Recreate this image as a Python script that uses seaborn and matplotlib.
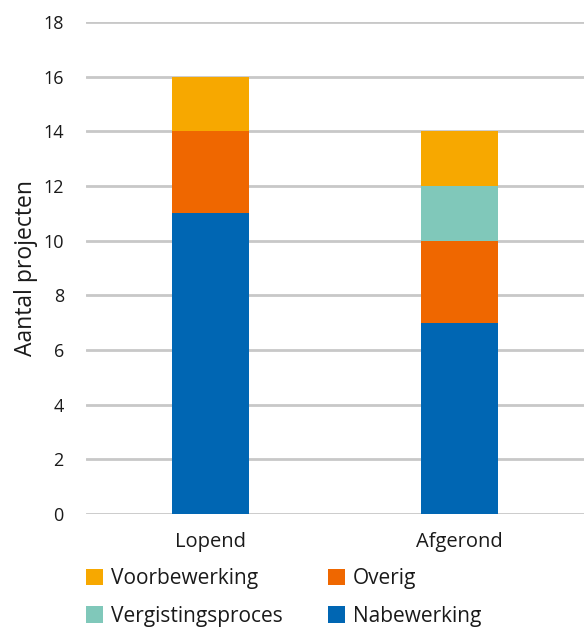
import numpy as np
import pandas as pd
import matplotlib
matplotlib.use("Agg")
import matplotlib.pyplot as plt
from matplotlib.patches import Patch
import seaborn as sns

# Project counts per status, split by process step
categories = ["Lopend", "Afgerond"]
nabewerking = [11, 7]
overig = [3, 3]
vergistingsproces = [0, 2]
voorbewerking = [2, 2]

series_names = ["Nabewerking", "Overig", "Vergistingsproces", "Voorbewerking"]
series_values = [nabewerking, overig, vergistingsproces, voorbewerking]
series_colors = ["#0066B3", "#EF6700", "#80C8BA", "#F7A800"]

y_ticks = [0, 2, 4, 6, 8, 10, 12, 14, 16, 18]
y_label = "Aantal projecten"

sns.set_theme(style="white")
plt.rcParams["font.family"] = ["Open Sans", "DejaVu Sans"]

fig = plt.figure(figsize=(5.84, 6.30), dpi=100)
ax = fig.add_axes([86 / 584, 1 - 514 / 630, 1 - 86 / 584, (514 - 22) / 630])

# Stack by drawing cumulative totals from the top layer downwards
cumulative = np.cumsum(np.array(series_values, dtype=float), axis=0)
for i in range(len(series_names) - 1, -1, -1):
    df = pd.DataFrame({"status": categories, "value": cumulative[i]})
    sns.barplot(data=df, x="status", y="value", order=categories,
                color=series_colors[i], saturation=1, width=0.31,
                linewidth=0, ax=ax, zorder=3)

ax.set_xlim(-0.5, 1.5)
ax.set_ylim(0, 18)
ax.set_yticks(y_ticks)
ax.set_yticklabels([str(t) for t in y_ticks])
ax.yaxis.grid(True, color="#c8c8c8", linewidth=2, zorder=0)
ax.set_axisbelow(True)
for s in ax.spines.values():
    s.set_visible(False)
ax.tick_params(axis="y", length=0, pad=16, labelsize=13, labelcolor="#1a1a1a")
ax.tick_params(axis="x", length=0, pad=13, labelsize=14.5, labelcolor="#1a1a1a")
ax.set_xlabel("")
ax.set_ylabel(y_label, fontsize=16.5, color="#1a1a1a", labelpad=4)

# Legend in two columns below the chart
legend_order = ["Voorbewerking", "Vergistingsproces", "Overig", "Nabewerking"]
color_of = dict(zip(series_names, series_colors))
handles = [Patch(facecolor=color_of[n], edgecolor="none", label=n) for n in legend_order]
fig.legend(handles=handles, loc="upper left",
           bbox_to_anchor=(86 / 584, 1 - 568 / 630), ncol=2, frameon=False,
           fontsize=15, handlelength=0.82, handleheight=0.82,
           handletextpad=0.36, columnspacing=2.2, labelspacing=0.8,
           borderpad=0, borderaxespad=0, labelcolor="#1a1a1a")

fig.savefig("out.png", dpi=100)
